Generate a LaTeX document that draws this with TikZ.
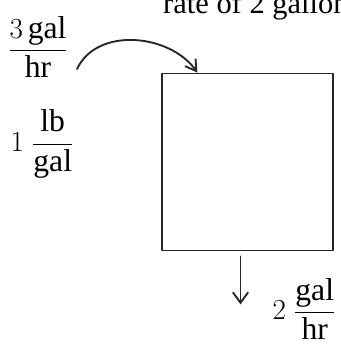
\documentclass[tikz,border=0pt]{standalone}
\usepackage{fontspec}
\usepackage{amsmath}
\setmainfont{Liberation Serif}
\usetikzlibrary{positioning,calc,arrows.meta}
\tikzset{
	hand/.style={font=\fontsize{27}{31}\selectfont, inner sep=0pt},
	pen/.style={line width=1.6pt, draw=black!85, line cap=round, line join=round},
}
\begin{document}
\begin{tikzpicture}[x=0.03cm,y=-0.03cm]
			\clip (0,0) rectangle (340,345);
			\node[anchor=base west, font=\fontsize{26}{30}\selectfont, inner sep=0pt] (title) at (163,14) {rate of 2 gallons};
			\node[hand] (flowin) at (38,47) {$\dfrac{3\,\mathrm{gal}}{\mathrm{hr}}$};
			\node[hand] (conc) at (42,144) {$1\;\dfrac{\mathrm{lb}}{\mathrm{gal}}$};
			\node[pen, minimum width=171*0.03cm, minimum height=177*0.03cm, inner sep=0pt] (tank) at (247.5,162) {};
			\node[hand] (flowout) at (304,309) {$2\;\dfrac{\mathrm{gal}}{\mathrm{hr}}$};
			\coordinate (inlet) at ($(tank.north west)!0.21!(tank.north east)$);
			\coordinate (drain) at ($(tank.south)+(-7,5)$);
			\coordinate (drop) at ($(drain)+(0,48)$);
			\draw[pen,-{Straight Barb[length=9pt,width=11pt]}] ($(flowin.east)+(9,22)$) to[out=65,in=125] (inlet);
			\draw[pen,-{Straight Barb[length=9pt,width=13pt]}] (drain) -- (drop);
		\end{tikzpicture}
\end{document}
